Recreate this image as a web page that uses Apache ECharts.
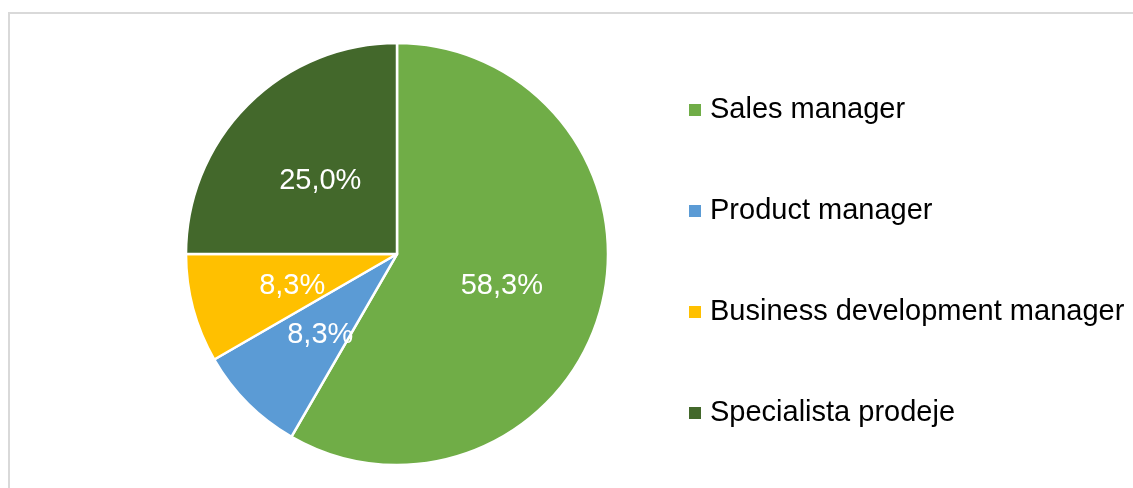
<!DOCTYPE html>
<html><head><meta charset="utf-8">
<script src="https://cdn.jsdelivr.net/npm/echarts@6/dist/echarts.min.js"></script>
<style>html,body{margin:0;padding:0;background:#fff}#c{width:1133px;height:488px}</style>
</head><body><div id="c"></div>
<script>
const categories = ['Sales manager', 'Product manager', 'Business development manager', 'Specialista prodeje'];
const values = [7, 1, 1, 3];
const colors = ['#70AD47', '#5B9BD5', '#FFC000', '#43682B'];

const total = values.reduce((a, b) => a + b, 0);
const chart = echarts.init(document.getElementById('c'));
chart.setOption({
  animation: false,
  graphic: [{
    type: 'rect', silent: true,
    shape: { x: 9, y: 13, width: 1160, height: 500 },
    style: { fill: 'none', stroke: '#d9d9d9', lineWidth: 2 }
  }],
  legend: {
    orient: 'vertical', left: 687, top: 95, padding: 0,
    itemWidth: 14, itemHeight: 14, itemGap: 71,
    icon: 'rect',
    textStyle: { fontFamily: 'Liberation Sans, Arial', fontSize: 29, lineHeight: 30, color: '#000', padding: [0, 0, 0, 3] },
    data: categories
  },
  series: [{
    type: 'pie',
    center: [397, 254], radius: 211,
    startAngle: 90, clockwise: true,
    itemStyle: { borderColor: '#fff', borderWidth: 2.5 },
    label: {
      show: true, position: 'inside', color: '#fff',
      fontFamily: 'Liberation Sans, Arial', fontSize: 29,
      offset: [0, 4],
      formatter: p => (p.value / total * 100).toFixed(1).replace('.', ',') + '%'
    },
    labelLine: { show: false },
    emphasis: { disabled: true },
    data: categories.map((n, i) => ({ name: n, value: values[i], itemStyle: { color: colors[i] } }))
  }]
});
</script></body></html>
